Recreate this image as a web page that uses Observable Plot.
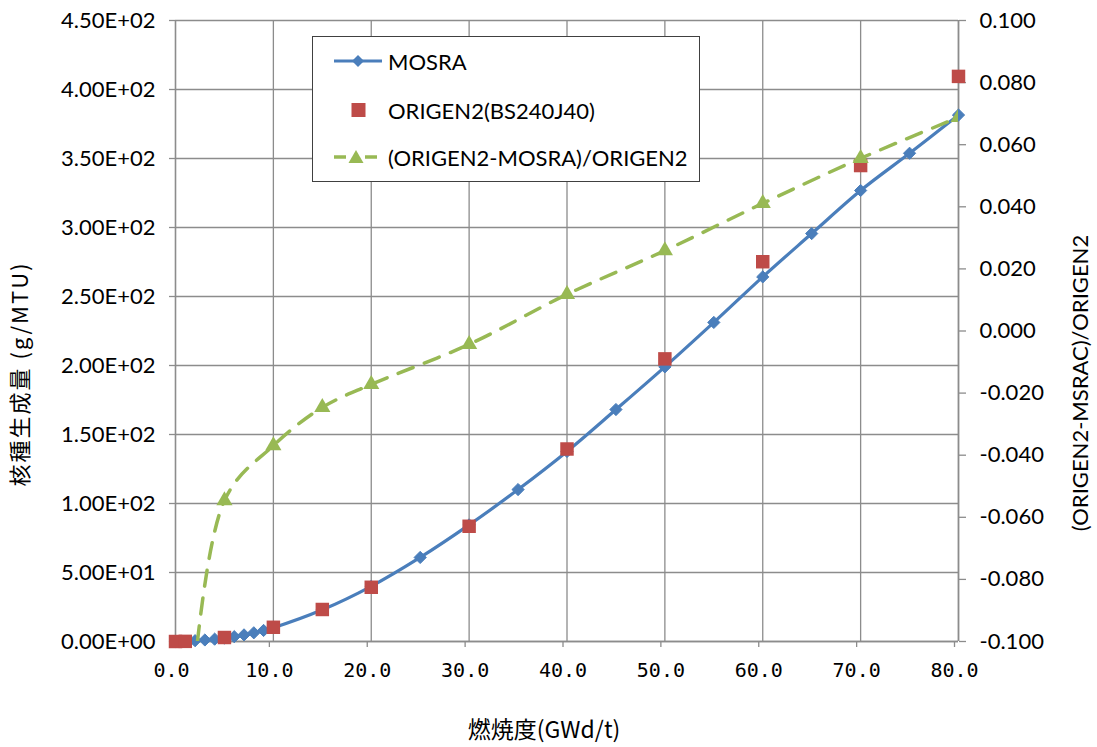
<!DOCTYPE html>
<html>
<head>
<meta charset="utf-8">
<script src="https://cdn.jsdelivr.net/npm/d3@7"></script>
<script src="https://cdn.jsdelivr.net/npm/@observablehq/plot@0.6"></script>
<style>
  html, body { margin: 0; padding: 0; background: #fff; }
  #wrap { position: relative; width: 1097px; height: 747px; font-family: Lato, "Open Sans", sans-serif; }
  #legend { position: absolute; left: 312px; top: 36px; width: 388px; height: 146px;
            border: 1.3px solid #404040; background: #fff; box-sizing: border-box; }
  .li { position: absolute; left: 0; height: 30px; display: flex; align-items: center; }
  .li svg { margin-left: 20px; }
  .li span { margin-left: 5px; font-size: 22px; color: #000; }
</style>
</head>
<body>
<div id="wrap">
  <div id="chart"></div>
  <div id="legend"></div>
</div>
<script>
// ---- data ----
const burnupMOSRA = [0,1,2,3,4,5,6,7,8,9,10,15,20,25,30,35,40,45,50,55,60,65,70,75,80];
const mosra = [0,0.2,0.6,1.1,1.7,2.5,3.5,4.8,6.3,8.0,10.0,23.0,40.0,60.9,84.5,110.1,137.7,168.1,199.0,231.2,264.2,295.6,326.8,353.8,381.5];
const burnupORIGEN = [0,1,5,10,15,20,30,40,50,60,70,80];
const origen2 = [0,0.1,2.9,10.3,23.2,39.3,83.5,139.5,204.8,275.2,344.9,409.5];
const burnupRatio = [1,5,10,15,20,30,40,50,60,70,80];
const ratio = [-0.145,-0.0546,-0.0369,-0.0246,-0.0172,-0.0043,0.0118,0.0259,0.0411,0.0556,0.0688];

const xTicks = [0,10,20,30,40,50,60,70,80];
const yTicks = [0,50,100,150,200,250,300,350,400,450];
const rightTicks = [-0.1,-0.08,-0.06,-0.04,-0.02,0,0.02,0.04,0.06,0.08,0.1];

const seriesNames = ["MOSRA", "ORIGEN2(BS240J40)", "(ORIGEN2-MOSRA)/ORIGEN2"];
const xLabel = "燃焼度(GWd/t)";
const yLabel = "核種生成量 (g/MTU)";
const y2Label = "(ORIGEN2-MSRAC)/ORIGEN2";

const colors = { blue: "#4A7EBB", red: "#BE4B48", green: "#98B954" };

// ---- scales ----
const yMax = 450, rMin = -0.1, rMax = 0.1;
const toLeft = r => (r - rMin) / (rMax - rMin) * yMax;

const mosraData = burnupMOSRA.map((b, i) => ({ b, v: mosra[i] }));
const origenData = burnupORIGEN.map((b, i) => ({ b, v: origen2[i] }));
const ratioData = burnupRatio.map((b, i) => ({ b, r: ratio[i] }));

const sci = d => {
  if (d === 0) return "0.00E+00";
  const e = Math.floor(Math.log10(d) + 1e-9);
  const m = d / Math.pow(10, e);
  return m.toFixed(2) + "E+" + String(e).padStart(2, "0");
};
const rFmt = d => {
  let r = Math.round((d / yMax * (rMax - rMin) + rMin) * 1000) / 1000;
  if (r === 0) r = 0;
  return r.toFixed(3);
};

const gridColor = "#8c8c8c";
const tickFont = "Lato, 'Open Sans', sans-serif";

const chart = Plot.plot({
  width: 1097,
  height: 747,
  marginLeft: 175,
  marginRight: 139,
  marginTop: 20,
  marginBottom: 106,
  style: { fontFamily: tickFont, fontSize: "22px", color: "#000", background: "#fff" },
  x: { domain: [0, 80] },
  y: { domain: [0, yMax] },
  marks: [
    Plot.gridY(yTicks, { stroke: gridColor, strokeOpacity: 1, strokeWidth: 1.3 }),
    Plot.gridX(xTicks.slice(1), { stroke: gridColor, strokeOpacity: 1, strokeWidth: 1.3 }),
    Plot.ruleX([0], { stroke: gridColor, strokeWidth: 1.6 }),
    Plot.ruleX([80], { stroke: gridColor, strokeWidth: 1.6 }),
    Plot.ruleY([0], { stroke: gridColor, strokeWidth: 1.6 }),
    Plot.axisY({ ticks: yTicks, tickFormat: sci, tickSize: 6, tickPadding: 14, stroke: gridColor, strokeWidth: 1.3, label: null, fontSize: 22, fontFamily: tickFont }),
    Plot.axisY({ anchor: "right", ticks: rightTicks.map(toLeft), tickFormat: rFmt, tickSize: 7, tickPadding: 14, stroke: gridColor, strokeWidth: 1.3, label: null, fontSize: 22, fontFamily: tickFont }),
    Plot.axisX({ ticks: xTicks, tickFormat: d => d.toFixed(1), tickSize: 6, tickPadding: 15, stroke: gridColor, strokeWidth: 1.3, label: null, fontSize: 20, fontFamily: "'DejaVu Sans Mono', monospace", dx: -4 }),
    // MOSRA
    Plot.line(mosraData, { x: "b", y: "v", stroke: colors.blue, strokeWidth: 3.2, curve: "catmull-rom" }),
    Plot.dot(mosraData, { x: "b", y: "v", symbol: "diamond2", r: 5.5, fill: colors.blue, stroke: colors.blue, strokeWidth: 1 }),
    // ORIGEN2
    Plot.dot(origenData, { x: "b", y: "v", symbol: "square", r: 7.6, fill: colors.red, stroke: "none" }),
    // ratio (secondary axis)
    Plot.line(ratioData, { x: "b", y: d => toLeft(d.r), stroke: colors.green, strokeWidth: 3.5, strokeDasharray: "16,12", strokeLinecap: "round", curve: "catmull-rom", clip: true }),
    Plot.dot(ratioData, { x: "b", y: d => toLeft(d.r), symbol: "triangle", r: 6, fill: colors.green, stroke: "none", clip: true }),
    // axis titles
    Plot.text([xLabel], { frameAnchor: "bottom", textAnchor: "middle", lineAnchor: "middle", dx: -23, dy: 89, fontSize: 23, fontFamily: "'Noto Sans CJK JP', sans-serif", fill: "#000" }),
    Plot.text([yLabel], { frameAnchor: "left", textAnchor: "middle", lineAnchor: "middle", dx: -155, dy: 43, rotate: -90, fontSize: 22, fontFamily: "'Noto Sans CJK JP', sans-serif", fill: "#000", className: "ylab" }),
    Plot.text([y2Label], { frameAnchor: "right", textAnchor: "middle", lineAnchor: "middle", dx: 122, dy: 52, rotate: -90, fontSize: 22, fontFamily: tickFont, fill: "#000" })
  ]
});
document.getElementById("chart").appendChild(chart);

// ---- legend (HTML overlay) ----
const legend = document.getElementById("legend");
const swatches = [
  `<svg width="50" height="20"><line x1="1" y1="10" x2="49" y2="10" stroke="${colors.blue}" stroke-width="3.2"/><path d="M25,4L31,10L25,16L19,10Z" fill="${colors.blue}"/></svg>`,
  `<svg width="50" height="20"><rect x="18.5" y="3" width="14" height="14" fill="${colors.red}"/></svg>`,
  `<svg width="50" height="20"><line x1="1" y1="10" x2="13" y2="10" stroke="${colors.green}" stroke-width="3.5"/><line x1="32" y1="10" x2="44" y2="10" stroke="${colors.green}" stroke-width="3.5"/><path d="M23,3L30.5,16L15.5,16Z" fill="${colors.green}"/></svg>`
];
const tops = [9, 58, 105];
seriesNames.forEach((name, i) => {
  const d = document.createElement("div");
  d.className = "li";
  d.style.top = tops[i] + "px";
  d.innerHTML = swatches[i] + `<span>${name}</span>`;
  legend.appendChild(d);
});
</script>
<style>
  .ylab text { letter-spacing: 2px; }
</style>
</body>
</html>
